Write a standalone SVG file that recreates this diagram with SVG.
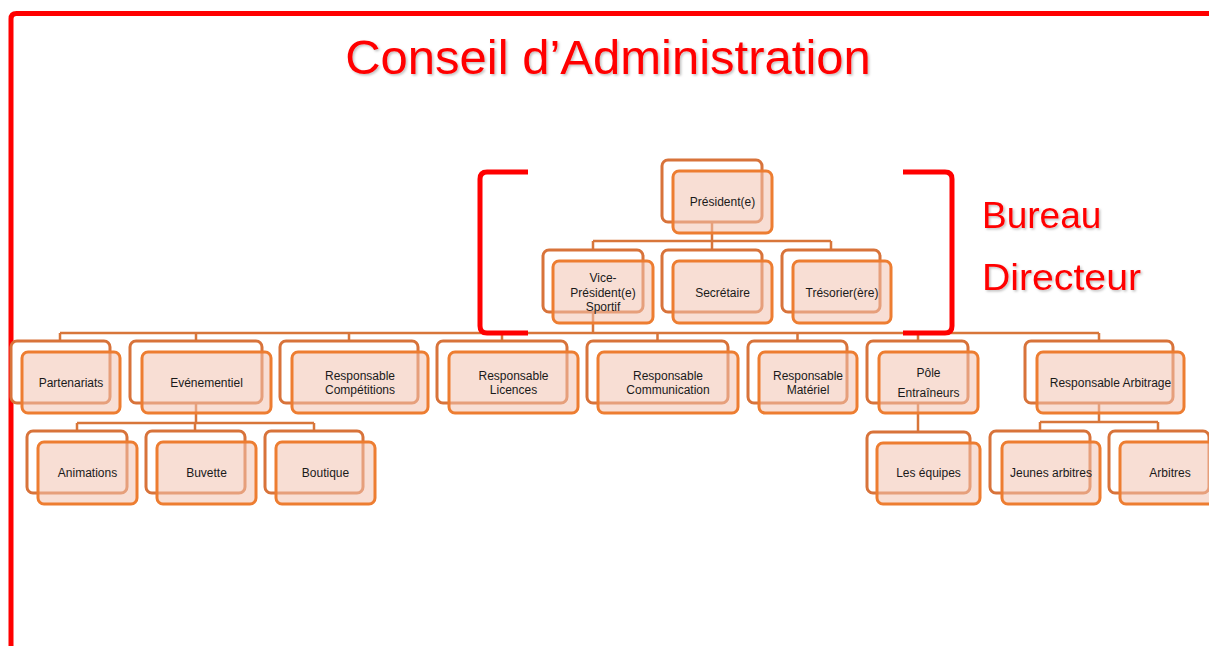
<svg xmlns="http://www.w3.org/2000/svg" width="1209" height="646" viewBox="0 0 1209 646">
<defs>
<style>
.b{fill:#fff;stroke:#D8733A;stroke-width:3}
.f{fill:#F2C3B1;fill-opacity:0.55;stroke:#ED7D31;stroke-width:3}
.t{font-family:"Liberation Sans",Arial,sans-serif;font-size:12px;fill:#1a1a1a;text-anchor:middle}
.c{fill:none;stroke:#D8763A;stroke-width:2.5}
.r{fill:none;stroke:#FF0000;stroke-width:5}
.big{font-family:"Liberation Sans",Arial,sans-serif;fill:#FF0000}
</style>
<filter id="sh" x="-5%" y="-20%" width="110%" height="140%">
<feDropShadow dx="1.5" dy="1.5" stdDeviation="1" flood-color="#000" flood-opacity="0.25"/>
</filter>
</defs>
<rect width="1209" height="646" fill="#fff"/>
<g id="frame">
<path class="r" d="M11,646 V19 Q11,13.5 16.5,13.5 H1209"/>
</g>
<text class="big" x="608" y="74" font-size="49" text-anchor="middle" filter="url(#sh)">Conseil d’Administration</text>
<g id="connectors">
<path class="c" d="M712,222 V241 M593,241 H831 M593,241 V250 M831,241 V250 M712,241 V250"/>
<path class="c" d="M593,312 V333 M60,333 H1099 M60,333 V341 M196,333 V341 M349,333 V341 M502,333 V341 M657.5,333 V341 M797.5,333 V341 M918,333 V341 M1099,333 V341"/>
<path class="c" d="M196,403 V423 M77,423 H314 M77,423 V431 M195,423 V431 M314,423 V431"/>
<path class="c" d="M918,403 V432"/>
<path class="c" d="M1099,403 V422 M1040,422 H1158 M1040,422 V431 M1158,422 V431"/>
</g>
<g id="president"><rect class="b" x="662" y="160" width="100" height="62" rx="6"/><rect class="f" x="673" y="171" width="99" height="62" rx="6"/><text class="t" x="722.5" y="206">Président(e)</text></g>
<g id="vp"><rect class="b" x="543" y="250" width="100" height="62" rx="6"/><rect class="f" x="553" y="261" width="100" height="62" rx="6"/><text class="t" x="603" y="282">Vice-</text><text class="t" x="603" y="297">Président(e)</text><text class="t" x="603" y="311">Sportif</text></g>
<g id="secretaire"><rect class="b" x="662" y="250" width="100" height="62" rx="6"/><rect class="f" x="673" y="261" width="99" height="62" rx="6"/><text class="t" x="722.5" y="297">Secrétaire</text></g>
<g id="tresorier"><rect class="b" x="782" y="250" width="98" height="62" rx="6"/><rect class="f" x="793" y="261" width="98" height="62" rx="6"/><text class="t" x="842" y="297">Trésorier(ère)</text></g>
<g id="partenariats"><rect class="b" x="11" y="341" width="99" height="62" rx="6"/><rect class="f" x="22" y="352" width="98" height="61" rx="6"/><text class="t" x="71" y="387">Partenariats</text></g>
<g id="evenementiel"><rect class="b" x="130" y="341" width="132" height="62" rx="6"/><rect class="f" x="142" y="352" width="129" height="61" rx="6"/><text class="t" x="206.5" y="387">Evénementiel</text></g>
<g id="competitions"><rect class="b" x="280" y="341" width="138" height="62" rx="6"/><rect class="f" x="292" y="352" width="136" height="61" rx="6"/><text class="t" x="360" y="380">Responsable</text><text class="t" x="360" y="394">Compétitions</text></g>
<g id="licences"><rect class="b" x="437" y="341" width="130" height="62" rx="6"/><rect class="f" x="449" y="352" width="129" height="61" rx="6"/><text class="t" x="513.5" y="380">Responsable</text><text class="t" x="513.5" y="394">Licences</text></g>
<g id="communication"><rect class="b" x="587" y="341" width="141" height="62" rx="6"/><rect class="f" x="598" y="352" width="140" height="61" rx="6"/><text class="t" x="668" y="380">Responsable</text><text class="t" x="668" y="394">Communication</text></g>
<g id="materiel"><rect class="b" x="748" y="341" width="99" height="62" rx="6"/><rect class="f" x="759" y="352" width="98" height="61" rx="6"/><text class="t" x="808" y="380">Responsable</text><text class="t" x="808" y="394">Matériel</text></g>
<g id="entraineurs"><rect class="b" x="867" y="341" width="101" height="62" rx="6"/><rect class="f" x="879" y="352" width="99" height="61" rx="6"/><text class="t" x="928.5" y="377">Pôle</text><text class="t" x="928.5" y="397">Entraîneurs</text></g>
<g id="arbitrage"><rect class="b" x="1025" y="341" width="148" height="62" rx="6"/><rect class="f" x="1037" y="352" width="147" height="61" rx="6"/><text class="t" x="1110.5" y="387">Responsable Arbitrage</text></g>
<g id="animations"><rect class="b" x="27" y="431" width="100" height="62" rx="6"/><rect class="f" x="38" y="442" width="99" height="62" rx="6"/><text class="t" x="87.5" y="477">Animations</text></g>
<g id="buvette"><rect class="b" x="146" y="431" width="99" height="62" rx="6"/><rect class="f" x="157" y="442" width="99" height="62" rx="6"/><text class="t" x="206.5" y="477">Buvette</text></g>
<g id="boutique"><rect class="b" x="265" y="431" width="98" height="62" rx="6"/><rect class="f" x="276" y="442" width="99" height="62" rx="6"/><text class="t" x="325.5" y="477">Boutique</text></g>
<g id="equipes"><rect class="b" x="867" y="432" width="103" height="61" rx="6"/><rect class="f" x="877" y="443" width="103" height="61" rx="6"/><text class="t" x="928.5" y="477">Les équipes</text></g>
<g id="jeunes"><rect class="b" x="990" y="431" width="100" height="62" rx="6"/><rect class="f" x="1002" y="442" width="98" height="62" rx="6"/><text class="t" x="1051" y="477">Jeunes arbitres</text></g>
<g id="arbitres"><rect class="b" x="1109" y="431" width="100" height="62" rx="6"/><rect class="f" x="1120" y="442" width="100" height="62" rx="6"/><text class="t" x="1170" y="477">Arbitres</text></g>
<g id="bureau">
<path class="r" d="M528,172 H487 Q480,172 480,179 V326 Q480,333 487,333 H528"/>
<path class="r" d="M903,172 H945 Q952,172 952,179 V326 Q952,333 945,333 H903"/>
<text class="big" x="982" y="228" font-size="37" filter="url(#sh)">Bureau</text>
<text class="big" x="982" y="290" font-size="37" textLength="159" lengthAdjust="spacingAndGlyphs" filter="url(#sh)">Directeur</text>
</g>
</svg>
